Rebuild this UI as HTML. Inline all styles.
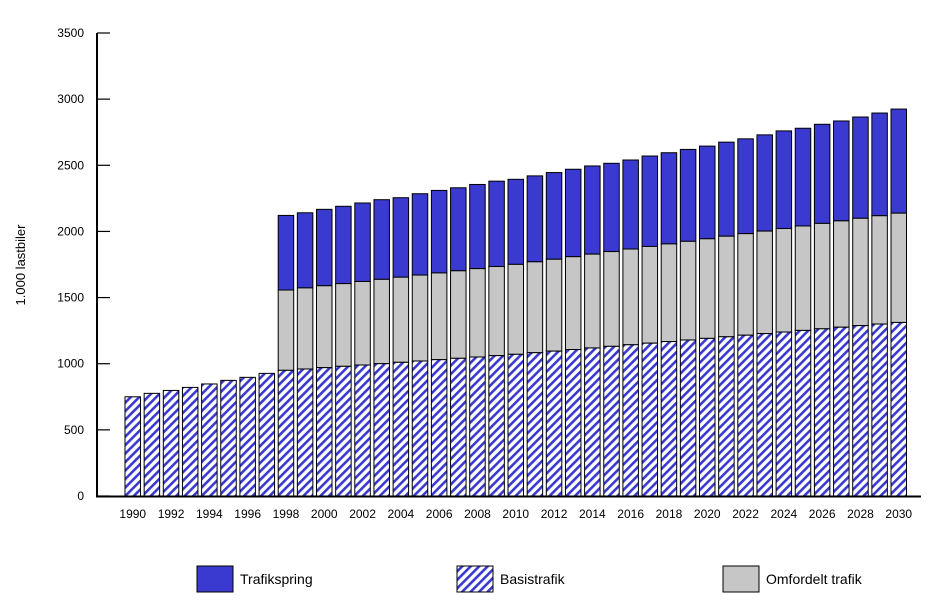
<!DOCTYPE html>
<html><head><meta charset="utf-8"><style>
body{margin:0;background:#fff;}
svg{display:block;font-family:"Liberation Sans",Arial,sans-serif;}
</style></head><body>
<svg id="s" width="946" height="612" xmlns="http://www.w3.org/2000/svg">
<defs>
<pattern id="h" width="6" height="6" patternUnits="userSpaceOnUse" patternTransform="rotate(45)">
<rect width="6" height="6" fill="#fff"/><rect width="2.6" height="6" fill="#3a3ad0"/>
</pattern>
</defs>
<g id="bars"></g>
<line x1="97" y1="33" x2="97" y2="497" stroke="#000" stroke-width="2"/>
<line x1="96" y1="496.5" x2="921" y2="496.5" stroke="#000" stroke-width="2"/>
<g id="ax" font-size="12" fill="#000"></g>
<text transform="translate(25,265) rotate(-90)" font-size="13" text-anchor="middle">1.000 lastbiler</text>
<rect x="197" y="566" width="36" height="26" fill="#3a3ad0" stroke="#000"/>
<text x="240" y="584" font-size="14">Trafikspring</text>
<rect x="457" y="566" width="36" height="26" fill="url(#h)" stroke="#000"/>
<text x="500" y="584" font-size="14">Basistrafik</text>
<rect x="723" y="566" width="36" height="26" fill="#c6c6c6" stroke="#000"/>
<text x="766" y="584" font-size="14">Omfordelt trafik</text>
</svg>
<script>
var ns="http://www.w3.org/2000/svg",k=463/3500,y0=496;
function Y(v){return y0-v*k;}
function el(n,a,p){var e=document.createElementNS(ns,n);for(var q in a)e.setAttribute(q,a[q]);p.appendChild(e);return e;}
var ax=document.getElementById('ax'),bars=document.getElementById('bars');
for(var v=0;v<=3500;v+=500){var y=Y(v);
 el('line',{x1:97,x2:110,y1:y,y2:y,stroke:'#000','stroke-width':1.2},ax);
 var t=el('text',{x:84,y:y+4,'text-anchor':'end'},ax);t.textContent=v;}
var basisEarly=[750,776,798,821,847,874,897,927];
var tot=[2121,2141,2167,2190,2215,2240,2255,2285,2310,2330,2355,2380,2394,2420,2445,2470,2495,2515,2540,2570,2595,2620,2645,2675,2700,2730,2760,2780,2810,2835,2865,2895,2925];
for(var i=0;i<=40;i++){
 var x=125+i*19.15,w=15.5,yr=1990+i,b;
 if(i<8){b=basisEarly[i];}
 else{var j=i-8,o;
  if(j<=12){b=950+j*(1071-950)/12;o=1557+j*(1751-1557)/12;}
  else{b=1071+(j-12)*(1312-1071)/20;o=1751+(j-12)*(2138-1751)/20;}
  var T=tot[j];
  el('rect',{x:x,y:Y(T),width:w,height:Y(o)-Y(T),fill:'#3a3ad0',stroke:'#000','stroke-width':1},bars);
  el('rect',{x:x,y:Y(o),width:w,height:Y(b)-Y(o),fill:'#c6c6c6',stroke:'#000','stroke-width':1},bars);}
 el('rect',{x:x,y:Y(b),width:w,height:y0-Y(b),fill:'url(#h)',stroke:'#000','stroke-width':1},bars);
 if(i%2==0){var t=el('text',{x:x+w/2,y:518,'text-anchor':'middle','font-size':12},ax);t.textContent=yr;}
}
</script>
</body></html>
